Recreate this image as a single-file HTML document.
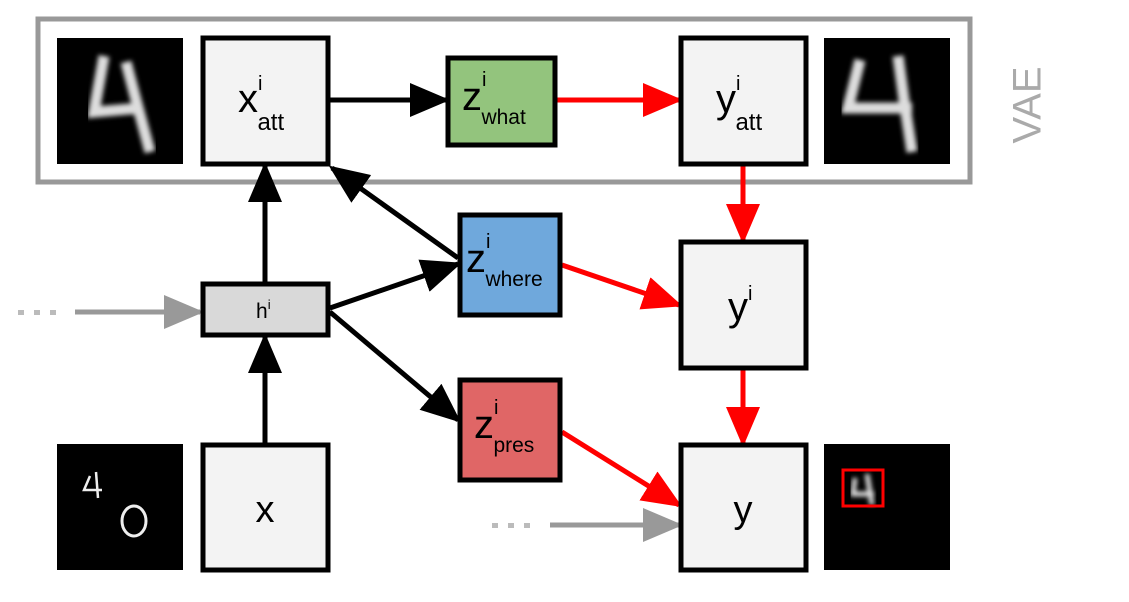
<!DOCTYPE html>
<html><head><meta charset="utf-8"><style>
html,body{margin:0;padding:0;background:#fff;width:1129px;height:602px;overflow:hidden}
text{font-family:"Liberation Sans",Arial,sans-serif}
</style></head><body>
<svg width="1129" height="602" viewBox="0 0 1129 602" xmlns="http://www.w3.org/2000/svg">
<defs>
<marker id="ar" viewBox="0 0 10 10" refX="9" refY="5" markerWidth="40" markerHeight="34" orient="auto" markerUnits="userSpaceOnUse" preserveAspectRatio="none"><path d="M0,0 L10,5 L0,10 z" fill="#ff0000"/></marker>
<marker id="abk" viewBox="0 0 10 10" refX="9" refY="5" markerWidth="40" markerHeight="34" orient="auto" markerUnits="userSpaceOnUse" preserveAspectRatio="none"><path d="M0,0 L10,5 L0,10 z" fill="#000"/></marker>
<marker id="ag" viewBox="0 0 10 10" refX="9" refY="5" markerWidth="40" markerHeight="34" orient="auto" markerUnits="userSpaceOnUse" preserveAspectRatio="none"><path d="M0,0 L10,5 L0,10 z" fill="#999"/></marker>
<filter id="bl"><feGaussianBlur stdDeviation="2.5"/></filter>
</defs>

<rect x="38" y="19" width="932" height="163" fill="none" stroke="#999" stroke-width="5"/>
<text x="1030" y="105" font-size="40" fill="#aaa" text-anchor="middle" transform="rotate(-90 1030 105)" dominant-baseline="middle">VAE</text>

<g>
<rect x="57" y="38" width="126" height="126" fill="#000"/>
<path d="M104,56 L94,112 L142,108 M126,62 L136,100 L150,152" stroke="#ddd" stroke-width="11" fill="none" filter="url(#bl)"/>
</g>
<g>
<rect x="824" y="38" width="126" height="126" fill="#000"/>
<path d="M860,60 L848,108 L912,108 M898,56 L904,100 L912,152" stroke="#ddd" stroke-width="11" fill="none" filter="url(#bl)"/>
</g>
<g>
<rect x="57" y="444" width="126" height="126" fill="#000"/>
<path d="M90,476 L84,490 L102,490 M96,472 L98,498" stroke="#eee" stroke-width="2.5" fill="none"/>
<ellipse cx="134" cy="521" rx="12" ry="15" stroke="#eee" stroke-width="3" fill="none"/>
</g>
<g>
<rect x="824" y="444" width="126" height="126" fill="#000"/>
<path d="M855,478 L853,494 L874,494 M867,474 L872,505" stroke="#ddd" stroke-width="5" fill="none" filter="url(#bl)"/>
<rect x="843" y="470" width="40" height="36" fill="none" stroke="#f00" stroke-width="3"/>
</g>

<g stroke-width="5" fill="none">
<line x1="75" y1="312" x2="200" y2="312" stroke="#999" marker-end="url(#ag)"/>
<line x1="550" y1="525" x2="679" y2="525" stroke="#999" marker-end="url(#ag)"/>
<line x1="330" y1="100" x2="446" y2="100" stroke="#000" marker-end="url(#abk)"/>
<line x1="557" y1="100" x2="679" y2="100" stroke="#f00" marker-end="url(#ar)"/>
<line x1="743" y1="166" x2="743" y2="240" stroke="#f00" marker-end="url(#ar)"/>
<line x1="743" y1="370" x2="743" y2="443" stroke="#f00" marker-end="url(#ar)"/>
<line x1="265" y1="282" x2="265" y2="166" stroke="#000" marker-end="url(#abk)"/>
<line x1="265" y1="443" x2="265" y2="337" stroke="#000" marker-end="url(#abk)"/>
<line x1="330" y1="308" x2="458" y2="264" stroke="#000" marker-end="url(#abk)"/>
<line x1="458" y1="258" x2="332" y2="168" stroke="#000" marker-end="url(#abk)"/>
<line x1="330" y1="312" x2="458" y2="420" stroke="#000" marker-end="url(#abk)"/>
<line x1="562" y1="265" x2="679" y2="305" stroke="#f00" marker-end="url(#ar)"/>
<line x1="562" y1="432" x2="679" y2="505" stroke="#f00" marker-end="url(#ar)"/>
</g>
<g fill="#bbb">
<rect x="18" y="310" width="6" height="5"/><rect x="34" y="310" width="6" height="5"/><rect x="50" y="310" width="6" height="5"/>
<rect x="492" y="523" width="6" height="5"/><rect x="508" y="523" width="6" height="5"/><rect x="524" y="523" width="6" height="5"/>
</g>

<g>
<rect x="203" y="38" width="125" height="126" fill="#f3f3f3" stroke="#000" stroke-width="5"/>
<text x="238" y="112" font-size="40">x<tspan dy="-22" font-size="20">i</tspan><tspan dx="-5" dy="40" font-size="24">att</tspan></text>
</g>
<g>
<rect x="448" y="58" width="107" height="87" fill="#93c47d" stroke="#000" stroke-width="5"/>
<text x="462" y="110" font-size="40">z<tspan dy="-24" font-size="20">i</tspan><tspan dx="-5" dy="38" font-size="21">what</tspan></text>
</g>
<g>
<rect x="681" y="38" width="125" height="126" fill="#f3f3f3" stroke="#000" stroke-width="5"/>
<text x="716" y="112" font-size="40">y<tspan dy="-22" font-size="20">i</tspan><tspan dx="-5" dy="40" font-size="24">att</tspan></text>
</g>
<g>
<rect x="460" y="215" width="100" height="100" fill="#6fa8dc" stroke="#000" stroke-width="5"/>
<text x="466" y="272" font-size="40">z<tspan dy="-24" font-size="20">i</tspan><tspan dx="-5" dy="38" font-size="21">where</tspan></text>
</g>
<g>
<rect x="681" y="242" width="125" height="126" fill="#f3f3f3" stroke="#000" stroke-width="5"/>
<text x="728" y="320" font-size="40">y<tspan dy="-20" font-size="20">i</tspan></text>
</g>
<g>
<rect x="203" y="284" width="125" height="51" fill="#d9d9d9" stroke="#000" stroke-width="5"/>
<text x="256" y="318" font-size="21">h<tspan dy="-9" font-size="13">i</tspan></text>
</g>
<g>
<rect x="460" y="380" width="100" height="100" fill="#e06666" stroke="#000" stroke-width="5"/>
<text x="474" y="438" font-size="40">z<tspan dy="-24" font-size="20">i</tspan><tspan dx="-5" dy="38" font-size="21">pres</tspan></text>
</g>
<g>
<rect x="203" y="445" width="125" height="125" fill="#f3f3f3" stroke="#000" stroke-width="5"/>
<text x="265" y="522" font-size="38" text-anchor="middle">x</text>
</g>
<g>
<rect x="681" y="445" width="125" height="125" fill="#f3f3f3" stroke="#000" stroke-width="5"/>
<text x="743" y="522" font-size="38" text-anchor="middle">y</text>
</g>
</svg>
</body></html>
